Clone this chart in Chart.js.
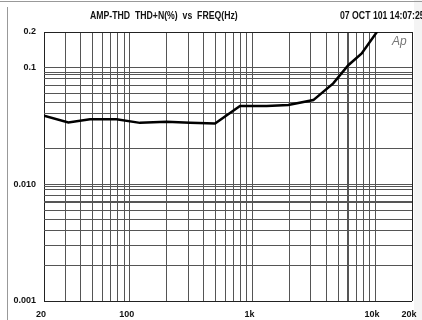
<!DOCTYPE html>
<html>
<head>
<meta charset="utf-8">
<script src="https://cdn.jsdelivr.net/npm/chart.js@4.4.1/dist/chart.umd.min.js"></script>
<style>
  html, body { margin: 0; padding: 0; background: #fff; overflow: hidden; }
  #wrap { width: 422px; height: 320px; }
  canvas { display: block; }
</style>
</head>
<body>
<div id="wrap"><canvas id="thdChart" width="422" height="320"></canvas></div>
<script>
// measured curve (Hz, THD+N %)
const freqHz = [20, 31.6, 47.4, 78, 121, 200, 310, 496, 792, 1308, 1961, 3136, 4560, 6048, 7780, 10620];
const thdPct = [0.0384, 0.0337, 0.0358, 0.0358, 0.0334, 0.0341, 0.0334, 0.0330, 0.0465, 0.0465, 0.0474, 0.0523, 0.0727, 0.104, 0.131, 0.208];

// grid lines as drawn on the plot
const xGridHz = [20, 30, 40, 50, 60, 70, 80, 90, 100, 200, 300, 400, 500, 600, 700, 800, 900,
  1000, 2000, 3000, 4000, 5000, 6000, 7000, 8000, 9000, 10000, 20000];
const yGridPct = [0.2, 0.1, 0.09, 0.086, 0.08, 0.07, 0.06, 0.05, 0.04, 0.02,
  0.01, 0.0095, 0.009, 0.008, 0.007, 0.006, 0.005, 0.004, 0.003, 0.002, 0.001];

// tick labels
const xLabelValues = [20, 100, 1000, 10000, 20000];
const xLabelText = ['20', '100', '1k', '10k', '20k'];
const yLabelValues = [0.2, 0.1, 0.01, 0.001];
const yLabelText = ['0.2', '0.1', '0.010', '0.001'];

const titleText = 'AMP-THD  THD+N(%)  vs  FREQ(Hz)';
const dateText = '07 OCT 101 14:07:25';

const FONT = "'Liberation Sans', Arial, sans-serif";

function labelFor(values, texts, v) {
  const i = values.findIndex(x => Math.abs(x - v) / x < 1e-6);
  return i >= 0 ? texts[i] : '';
}

const frame = {
  id: 'frame',
  beforeDraw(chart) {
    const c = chart.ctx;
    c.save();
    c.fillStyle = '#f4f4f4';
    c.fillRect(414, 0, 8, 320);
    c.strokeStyle = '#999';
    c.lineWidth = 1;
    c.beginPath();
    c.moveTo(0, 1.5); c.lineTo(422, 1.5);
    c.moveTo(7.5, 7); c.lineTo(7.5, 320);
    c.stroke();
    c.restore();
  },
  afterDraw(chart) {
    const c = chart.ctx;
    c.save();
    c.fillStyle = '#111';
    c.font = 'bold 10px ' + FONT;
    c.textBaseline = 'middle';
    c.textAlign = 'left';
    // the header font is a narrow one: squeeze it a little
    c.save();
    c.translate(90, 16);
    c.scale(0.87, 1);
    c.fillText(titleText, 0, 0);
    c.restore();
    c.save();
    c.translate(340, 16);
    c.scale(0.87, 1);
    c.fillText(dateText, 0, 0);
    c.restore();
    c.fillStyle = '#777';
    c.font = 'italic 12px ' + FONT;
    c.textBaseline = 'alphabetic';
    c.fillText('Ap', 392, 45);
    c.restore();
  }
};

const ctx = document.getElementById('thdChart').getContext('2d');
new Chart(ctx, {
  type: 'line',
  data: {
    datasets: [{
      data: freqHz.map((f, i) => ({ x: f, y: thdPct[i] })),
      borderColor: '#000',
      borderWidth: 2.5,
      pointRadius: 0,
      tension: 0,
      fill: false
    }]
  },
  options: {
    responsive: false,
    animation: false,
    devicePixelRatio: 1,
    layout: { padding: { left: 0, right: 10, top: 32, bottom: 0 } },
    plugins: { legend: { display: false }, tooltip: { enabled: false } },
    scales: {
      x: {
        type: 'logarithmic',
        min: 20,
        max: 20000,
        afterBuildTicks: scale => { scale.ticks = xGridHz.map(v => ({ value: v })); },
        afterFit: scale => {
          scale.height = 19;
          scale.paddingLeft = 0;
          scale.paddingRight = 0;
        },
        border: { display: false },
        grid: {
          drawTicks: false,
          color: c => (c.tick && (c.tick.value === 20 || c.tick.value === 20000)) ? '#222' : '#555',
          lineWidth: c => (c.tick && c.tick.value === 6000) ? 2 : 1
        },
        ticks: {
          autoSkip: false,
          maxRotation: 0,
          padding: 8,
          labelOffset: -3,
          color: '#111',
          font: { family: FONT, size: 9, weight: 'bold' },
          callback: v => labelFor(xLabelValues, xLabelText, v)
        }
      },
      y: {
        type: 'logarithmic',
        min: 0.001,
        max: 0.2,
        afterBuildTicks: scale => { scale.ticks = yGridPct.map(v => ({ value: v })); },
        afterFit: scale => { scale.width = 44; },
        border: { display: false },
        grid: {
          drawTicks: false,
          color: c => (c.tick && (c.tick.value === 0.2 || c.tick.value === 0.001)) ? '#222' : '#555',
          lineWidth: c => (c.tick && c.tick.value === 0.007) ? 2 : 1
        },
        ticks: {
          autoSkip: false,
          padding: 8,
          color: '#111',
          font: { family: FONT, size: 9, weight: 'bold' },
          callback: v => labelFor(yLabelValues, yLabelText, v)
        }
      }
    }
  },
  plugins: [frame]
});
</script>
</body>
</html>
